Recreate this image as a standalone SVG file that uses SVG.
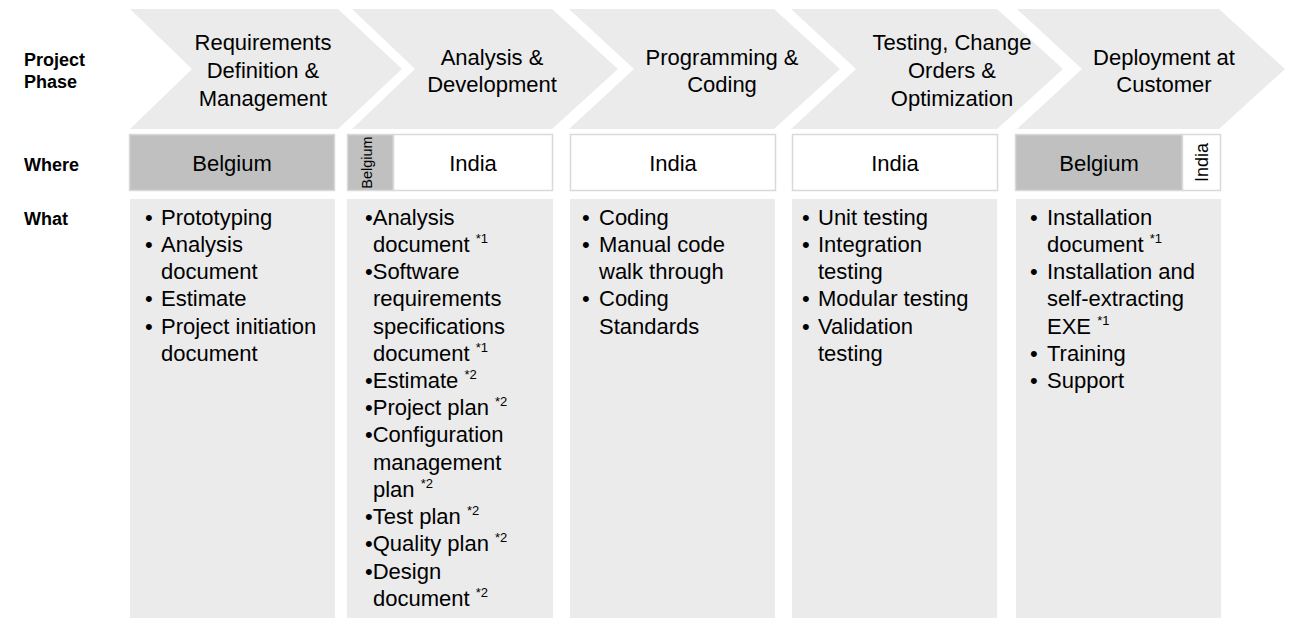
<svg xmlns="http://www.w3.org/2000/svg" width="1290" height="619" viewBox="0 0 1290 619">
<style>
.chev{fill:#ebebeb}
.what{fill:#ebebeb}
.gray{fill:#c0c0c0;stroke:#d9d9d9;stroke-width:1.5}
.white{fill:#ffffff;stroke:#d9d9d9;stroke-width:1.5}
text{font-family:"Liberation Sans",Arial,sans-serif;fill:#000}
.lbl{font-size:18px;font-weight:bold}
.ph{font-size:22px;text-anchor:middle}
.loc{font-size:22px;text-anchor:middle}
.b{font-size:22px}
.sup{font-size:13px}
</style>
<rect width="1290" height="619" fill="#ffffff"/>
<g id="labels">
<text class="lbl" x="24" y="66">Project</text>
<text class="lbl" x="24" y="88">Phase</text>
<text class="lbl" x="24" y="171">Where</text>
<text class="lbl" x="24" y="225">What</text>
</g>
<g id="phase1">
<polygon class="chev" points="130,9 338,9 402,69 338,129 130,129 192,69"/>
<text class="ph" x="263" y="50">Requirements</text>
<text class="ph" x="263" y="78">Definition &amp;</text>
<text class="ph" x="263" y="106">Management</text>
</g>
<g id="phase2">
<polygon class="chev" points="352,9 552,9 618,69 552,129 352,129 415,69"/>
<text class="ph" x="492" y="65">Analysis &amp;</text>
<text class="ph" x="492" y="92">Development</text>
</g>
<g id="phase3">
<polygon class="chev" points="569,9 774,9 840,69 774,129 569,129 634,69"/>
<text class="ph" x="722" y="65">Programming &amp;</text>
<text class="ph" x="722" y="92">Coding</text>
</g>
<g id="phase4">
<polygon class="chev" points="791,9 997,9 1063,69 997,129 791,129 856,69"/>
<text class="ph" x="952" y="50">Testing, Change</text>
<text class="ph" x="952" y="78">Orders &amp;</text>
<text class="ph" x="952" y="106">Optimization</text>
</g>
<g id="phase5">
<polygon class="chev" points="1017,9 1219,9 1285,69 1219,129 1017,129 1082,69"/>
<text class="ph" x="1164" y="65">Deployment at</text>
<text class="ph" x="1164" y="92">Customer</text>
</g>
<g id="where1">
<rect class="gray" x="129.5" y="134.5" width="205" height="56"/>
<text class="loc" x="232" y="171">Belgium</text>
</g>
<g id="where2">
<rect class="gray" x="347.5" y="134.5" width="46" height="56"/>
<rect class="white" x="393.5" y="134.5" width="159" height="56"/>
<text font-size="14.5" text-anchor="middle" transform="translate(372,162.5) rotate(-90)">Belgium</text>
<text class="loc" x="473" y="171">India</text>
</g>
<g id="where3">
<rect class="white" x="570.5" y="134.5" width="205" height="56"/>
<text class="loc" x="673" y="171">India</text>
</g>
<g id="where4">
<rect class="white" x="792.5" y="134.5" width="205" height="56"/>
<text class="loc" x="895" y="171">India</text>
</g>
<g id="where5">
<rect class="gray" x="1015.5" y="134.5" width="167" height="56"/>
<rect class="white" x="1182.5" y="134.5" width="38" height="56"/>
<text class="loc" x="1099" y="171">Belgium</text>
<text font-size="18" text-anchor="middle" transform="translate(1208,162.5) rotate(-90)">India</text>
</g>
<g id="what1">
<rect class="what" x="130" y="199" width="205" height="419"/>
<text class="b" x="145" y="225">•</text><text class="b" x="161" y="225">Prototyping</text>
<text class="b" x="145" y="252">•</text><text class="b" x="161" y="252">Analysis</text>
<text class="b" x="161" y="279">document</text>
<text class="b" x="145" y="306">•</text><text class="b" x="161" y="306">Estimate</text>
<text class="b" x="145" y="334">•</text><text class="b" x="161" y="334">Project initiation</text>
<text class="b" x="161" y="361">document</text>
</g>
<g id="what2">
<rect class="what" x="347" y="199" width="206" height="419"/>
<text class="b" x="365" y="225">•Analysis</text>
<text class="b" x="373" y="252">document <tspan class="sup" dy="-9">*1</tspan></text>
<text class="b" x="365" y="279">•Software</text>
<text class="b" x="373" y="306">requirements</text>
<text class="b" x="373" y="334">specifications</text>
<text class="b" x="373" y="361">document <tspan class="sup" dy="-9">*1</tspan></text>
<text class="b" x="365" y="388">•Estimate <tspan class="sup" dy="-9">*2</tspan></text>
<text class="b" x="365" y="415">•Project plan <tspan class="sup" dy="-9">*2</tspan></text>
<text class="b" x="365" y="442">•Configuration</text>
<text class="b" x="373" y="470">management</text>
<text class="b" x="373" y="497">plan <tspan class="sup" dy="-9">*2</tspan></text>
<text class="b" x="365" y="524">•Test plan <tspan class="sup" dy="-9">*2</tspan></text>
<text class="b" x="365" y="551">•Quality plan <tspan class="sup" dy="-9">*2</tspan></text>
<text class="b" x="365" y="579">•Design</text>
<text class="b" x="373" y="606">document <tspan class="sup" dy="-9">*2</tspan></text>
</g>
<g id="what3">
<rect class="what" x="570" y="199" width="205" height="419"/>
<text class="b" x="582" y="225">•</text><text class="b" x="599" y="225">Coding</text>
<text class="b" x="582" y="252">•</text><text class="b" x="599" y="252">Manual code</text>
<text class="b" x="599" y="279">walk through</text>
<text class="b" x="582" y="306">•</text><text class="b" x="599" y="306">Coding</text>
<text class="b" x="599" y="334">Standards</text>
</g>
<g id="what4">
<rect class="what" x="792" y="199" width="205" height="419"/>
<text class="b" x="802" y="225">•</text><text class="b" x="818" y="225">Unit testing</text>
<text class="b" x="802" y="252">•</text><text class="b" x="818" y="252">Integration</text>
<text class="b" x="818" y="279">testing</text>
<text class="b" x="802" y="306">•</text><text class="b" x="818" y="306">Modular testing</text>
<text class="b" x="802" y="334">•</text><text class="b" x="818" y="334">Validation</text>
<text class="b" x="818" y="361">testing</text>
</g>
<g id="what5">
<rect class="what" x="1016" y="199" width="205" height="419"/>
<text class="b" x="1030" y="225">•</text><text class="b" x="1047" y="225">Installation</text>
<text class="b" x="1047" y="252">document <tspan class="sup" dy="-9">*1</tspan></text>
<text class="b" x="1030" y="279">•</text><text class="b" x="1047" y="279">Installation and</text>
<text class="b" x="1047" y="306">self-extracting</text>
<text class="b" x="1047" y="334">EXE <tspan class="sup" dy="-9">*1</tspan></text>
<text class="b" x="1030" y="361">•</text><text class="b" x="1047" y="361">Training</text>
<text class="b" x="1030" y="388">•</text><text class="b" x="1047" y="388">Support</text>
</g>
<g id="connectors"/>
</svg>
